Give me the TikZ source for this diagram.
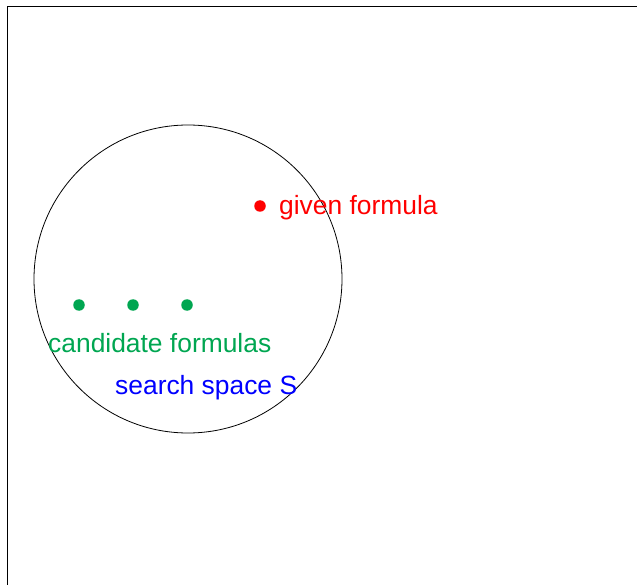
\documentclass[tikz,border=0pt]{standalone}
\usepackage{fontspec}
\setmainfont{Liberation Sans}
\definecolor{candgreen}{RGB}{0,166,81}
\begin{document}
\begin{tikzpicture}[x=1pt,y=-1pt,
  label/.style={inner sep=0pt,anchor=base west,font=\fontsize{26.4}{30}\selectfont},
  dotmark/.style={circle,inner sep=0pt,minimum size=11.5pt}]
\useasboundingbox (0,0) rectangle (637,585);
% frame edges
\coordinate (fb) at (7,585);
\coordinate (fc) at (7,7);
\coordinate (fr) at (637,7);
\draw[line width=1pt] (fb) -- (fc) -- (fr);
% search space
\node[draw,circle,line width=0.8pt,minimum size=308pt,inner sep=0pt] (space) at (188,279) {};
% given formula
\node[dotmark,fill=red] (given) at (260,206) {};
\node[label,text=red] (giventext) at (279,214.5) {given formula};
% candidates
\node[dotmark,fill=candgreen] (c1) at (79,305) {};
\node[dotmark,fill=candgreen] (c2) at (133,305) {};
\node[dotmark,fill=candgreen] (c3) at (187,305) {};
\node[label,text=candgreen] (candtext) at (48,352.5) {candidate formulas};
\node[label,text=blue] (spacetext) at (115,394.5) {search space S};
\end{tikzpicture}
\end{document}
